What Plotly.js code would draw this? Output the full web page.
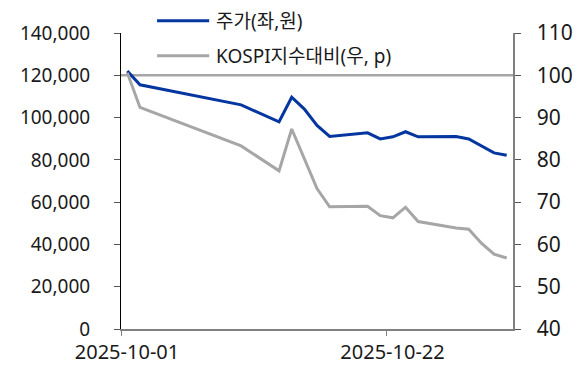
<!DOCTYPE html>
<html>
<head>
<meta charset="utf-8">
<script src="https://cdn.plot.ly/plotly-3.0.1.min.js"></script>
<style>
  html, body { margin: 0; padding: 0; background: #ffffff; }
  #chart { width: 584px; height: 365px; }
</style>
</head>
<body>
<div id="chart"></div>
<script>
// Daily closing prices (left axis, KRW) and relative strength vs. KOSPI (right axis, p)
const dates = ['2025-10-01', '2025-10-02', '2025-10-10', '2025-10-13', '2025-10-14', '2025-10-15',
               '2025-10-16', '2025-10-17', '2025-10-20', '2025-10-21', '2025-10-22', '2025-10-23',
               '2025-10-24', '2025-10-27', '2025-10-28', '2025-10-29', '2025-10-30', '2025-10-31'];
const price = [122000, 115500, 106000, 98000, 109600, 104000,
               96300, 91100, 92800, 89900, 90900, 93300,
               90900, 91000, 89900, 86600, 83300, 82200];
const relKospi = [100.6, 92.4, 83.3, 77.4, 87.3, 80.2,
                  73.2, 68.9, 69.0, 66.8, 66.3, 68.8,
                  65.4, 63.9, 63.6, 60.3, 57.7, 56.8];
const baseLevel = 100;

const xTickVals = ['2025-10-01', '2025-10-22'];
const leftTicks = [0, 20000, 40000, 60000, 80000, 100000, 120000, 140000];
const rightTicks = [40, 50, 60, 70, 80, 90, 100, 110];

const seriesNames = ['주가(좌,원)', 'KOSPI지수대비(우, p)'];

const BLUE = '#0536a0';
const GRAY = '#a6a6a6';
const FONT = 'Noto Sans, Noto Sans CJK KR, sans-serif';
const TEXT = '#1a1a1a';

// each trading day is plotted at the middle of its calendar day
const dayMid = d => d + ' 12:00';
const xs = dates.map(dayMid);

const traces = [
  {
    x: xs, y: price, yaxis: 'y', type: 'scatter', mode: 'lines',
    line: { color: BLUE, width: 3 }, name: seriesNames[0], showlegend: false,
    hoverinfo: 'skip'
  },
  {
    x: xs, y: relKospi, yaxis: 'y2', type: 'scatter', mode: 'lines',
    line: { color: GRAY, width: 3 }, name: seriesNames[1], showlegend: false,
    hoverinfo: 'skip'
  }
];

// legend drawn as line samples + labels above the plot
const legendRows = [
  { y: 1.0415, color: BLUE, text: seriesNames[0] },
  { y: 0.9235, color: GRAY, text: seriesNames[1] }
];

const shapes = [
  // reference level of the relative index
  {
    type: 'line', xref: 'paper', x0: 0, x1: 1, yref: 'y2', y0: baseLevel, y1: baseLevel,
    line: { color: GRAY, width: 2.5 }, layer: 'below'
  }
].concat(legendRows.map(r => ({
  type: 'line', xref: 'paper', yref: 'paper', x0: 0.092, x1: 0.225, y0: r.y, y1: r.y,
  line: { color: r.color, width: 3 }
})));

const annotations = legendRows.map(r => ({
  xref: 'paper', yref: 'paper', x: 0.237, y: r.y, xanchor: 'left', yanchor: 'middle',
  text: r.text, showarrow: false,
  font: { family: FONT, size: 19, color: TEXT }
}));

const layout = {
  width: 584, height: 365,
  margin: { l: 121, r: 71, t: 33, b: 36, pad: 0 },
  paper_bgcolor: '#ffffff', plot_bgcolor: '#ffffff',
  showlegend: false,
  font: { family: FONT, size: 19, color: TEXT },
  xaxis: {
    type: 'date',
    range: ['2025-10-01', '2025-11-01'],
    tickvals: xTickVals,
    tickformat: '%Y-%m-%d',
    ticklabelshift: 6,
    ticklabelstandoff: -1,
    ticks: 'outside', ticklen: 5, tickwidth: 1, tickcolor: '#808080',
    showline: true, linecolor: '#808080', linewidth: 1.5,
    showgrid: false, zeroline: false,
    tickfont: { family: FONT, size: 20, color: TEXT },
    fixedrange: true
  },
  yaxis: {
    range: [0, 140000],
    tickvals: leftTicks,
    tickformat: ',d',
    ticks: 'outside', ticklen: 6, tickwidth: 1, tickcolor: '#555555',
    ticklabelstandoff: 20,
    showline: true, linecolor: '#000000', linewidth: 1,
    showgrid: false, zeroline: false,
    tickfont: { family: FONT, size: 19, color: TEXT },
    fixedrange: true
  },
  yaxis2: {
    overlaying: 'y', side: 'right',
    range: [40, 110],
    tickvals: rightTicks,
    ticks: 'outside', ticklen: 6, tickwidth: 1, tickcolor: '#555555',
    ticklabelstandoff: 12,
    showline: true, linecolor: '#808080', linewidth: 1.5,
    showgrid: false, zeroline: false,
    tickfont: { family: FONT, size: 21, color: TEXT },
    fixedrange: true
  },
  shapes: shapes,
  annotations: annotations
};

Plotly.newPlot('chart', traces, layout, { displayModeBar: false, staticPlot: true });
</script>
</body>
</html>
